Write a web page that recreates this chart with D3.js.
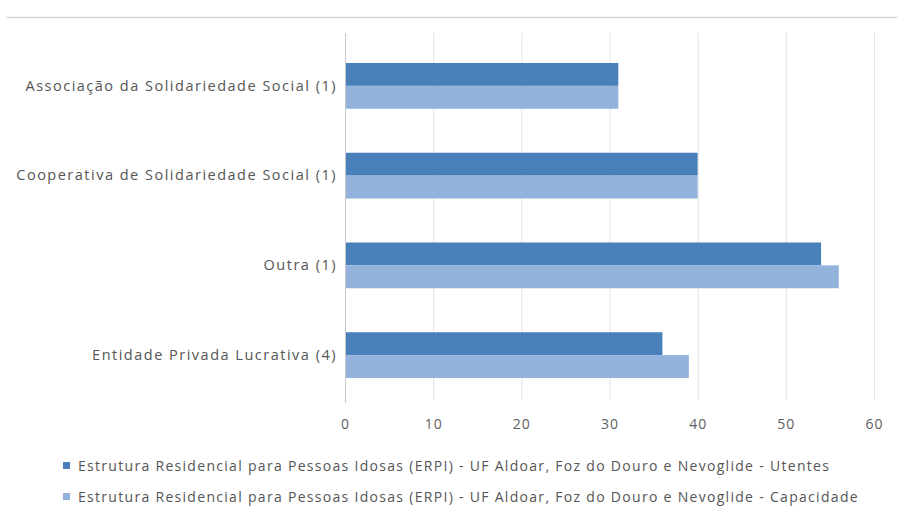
<!DOCTYPE html>
<html><head><meta charset="utf-8">
<script src="https://cdn.jsdelivr.net/npm/d3@7"></script>
<style>body{margin:0;background:#fff;} text{font-family:"Open Sans","Liberation Sans",sans-serif;}</style>
</head><body>
<svg id="c" width="898" height="523"></svg>
<script>
const categories = ["Associação da Solidariedade Social (1)", "Cooperativa de Solidariedade Social (1)", "Outra (1)", "Entidade Privada Lucrativa (4)"];
const seriesNames = ["Estrutura Residencial para Pessoas Idosas (ERPI) - UF Aldoar, Foz do Douro e Nevoglide - Utentes",
                     "Estrutura Residencial para Pessoas Idosas (ERPI) - UF Aldoar, Foz do Douro e Nevoglide - Capacidade"];
const utentes = [31, 40, 54, 36];
const capacidade = [31, 40, 56, 39];
const tickValues = [0, 10, 20, 30, 40, 50, 60];
const colors = ["#4a80b9", "#93b3dd"];

const svg = d3.select("#c");
const x = d3.scaleLinear().domain([0, 60]).range([345, 874]);
const y = d3.scaleBand().domain(categories).range([41, 400]).paddingInner(0.49).paddingOuter(0.245);
const sub = d3.scaleBand().domain([0, 1]).range([0, y.bandwidth()]);

// top border line
svg.append("line").attr("x1", 6).attr("x2", 898).attr("y1", 17.5).attr("y2", 17.5).attr("stroke", "#d9d9d9").attr("stroke-width", 1.5);

// gridlines
svg.append("g").selectAll("line").data(tickValues.slice(1)).join("line")
  .attr("x1", d => x(d) + 0.5).attr("x2", d => x(d) + 0.5).attr("y1", 33).attr("y2", 400)
  .attr("stroke", "#e3e3e3").attr("stroke-width", 1);

const series = [utentes, capacidade];
series.forEach((vals, si) => {
  svg.append("g").selectAll("rect").data(categories).join("rect")
    .attr("x", x(0)).attr("y", (d) => y(d) + sub(si))
    .attr("width", (d, i) => x(vals[i]) - x(0)).attr("height", sub.bandwidth())
    .attr("fill", colors[si]);
});

// axis line
svg.append("line").attr("x1", x(0) + 0.5).attr("x2", x(0) + 0.5).attr("y1", 33).attr("y2", 403)
  .attr("stroke", "#c8c8c8").attr("stroke-width", 1);

// x tick labels
const xAxis = d3.axisBottom(x).tickValues(tickValues).tickSize(0).tickPadding(0);
const gx = svg.append("g").attr("transform", "translate(0,419)").call(xAxis);
gx.select(".domain").remove();
gx.selectAll("text").attr("font-size", 14).attr("fill", "#606060").attr("dy", "0.71em").attr("y", 0)
  .attr("letter-spacing", 1)
  .style("font-family", "'Open Sans','Liberation Sans',sans-serif");

// y labels
const yAxis = d3.axisLeft(y).tickSize(0).tickPadding(8);
const gy = svg.append("g").attr("transform", `translate(${x(0)},0)`).call(yAxis);
gy.select(".domain").remove();
gy.selectAll("text").attr("font-size", 14.5).attr("fill", "#555").attr("letter-spacing", 1.5)
  .style("font-family", "'Open Sans','Liberation Sans',sans-serif");

// legend
const leg = svg.append("g");
seriesNames.forEach((name, i) => {
  const yy = 466 + i * 31;
  leg.append("rect").attr("x", 63).attr("y", yy - 4).attr("width", 7).attr("height", 7).attr("fill", colors[i]);
  leg.append("text").attr("x", 78).attr("y", yy).attr("dy", "0.35em").attr("font-size", 14)
    .attr("fill", "#555").attr("letter-spacing", 1.3).text(name);
});
</script>
</body></html>
